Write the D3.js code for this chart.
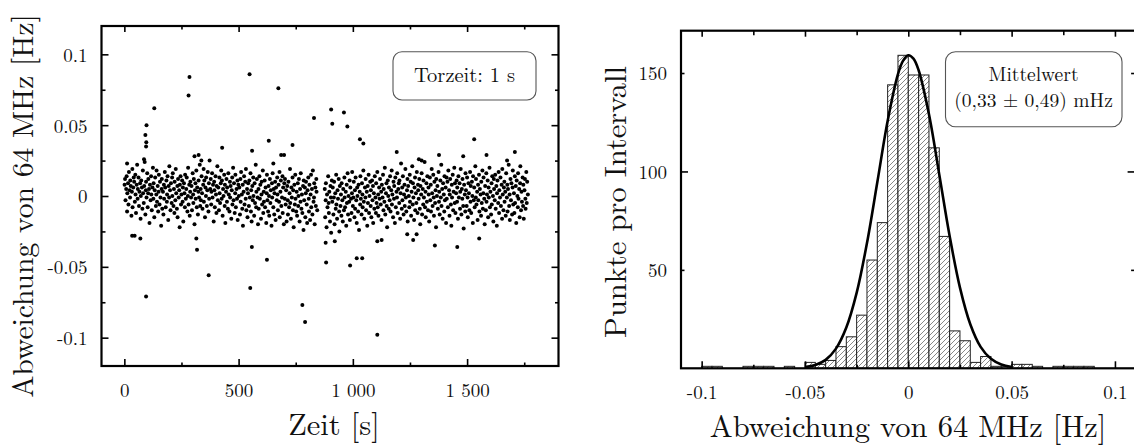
<!DOCTYPE html>
<html><head><meta charset="utf-8">
<script src="https://cdn.jsdelivr.net/npm/d3@7"></script>
<style>
html,body{margin:0;padding:0;background:#fff;}
</style></head><body>
<svg id="chart" width="1134" height="448"></svg>
<script>
// ---------- Left chart: deviation vs time (s, mHz) ----------
const bandTime = [
1,3,5,8,10,12,13,16,18,20,23,25,26,28,31,33,35,36,39,41,
43,46,48,49,51,54,56,58,59,62,64,66,69,71,72,74,77,79,81,82,
85,87,89,92,94,95,97,100,102,104,105,108,110,112,115,117,118,120,123,125,
127,128,131,133,135,138,140,141,143,146,148,150,151,154,156,158,161,163,164,166,
169,171,173,174,177,179,181,184,186,187,189,192,194,196,197,200,202,204,207,209,
210,212,215,217,219,220,223,225,227,230,232,233,235,238,240,242,243,246,248,250,
253,255,256,258,261,263,265,266,269,271,273,276,278,279,281,284,286,288,289,292,
294,296,299,301,302,304,307,309,311,312,315,317,319,322,324,325,327,330,332,334,
335,338,340,342,345,347,348,350,353,355,357,358,361,363,365,368,370,371,373,376,
378,380,381,384,386,388,391,393,394,396,399,401,403,404,407,409,411,414,416,417,
419,422,424,426,427,430,432,434,437,439,440,442,445,447,449,450,453,455,457,460,
462,463,465,468,470,472,473,476,478,480,483,485,486,488,491,493,495,496,499,501,
503,506,508,509,511,514,516,518,519,522,524,526,529,531,532,534,537,539,541,542,
545,547,549,552,554,555,557,560,562,564,565,568,570,572,575,577,578,580,583,585,
587,588,591,593,595,598,600,601,603,606,608,610,611,614,616,618,621,623,624,626,
629,631,633,634,637,639,641,644,646,647,649,652,654,656,657,660,662,664,667,669,
670,672,675,677,679,680,683,685,687,690,692,693,695,698,700,702,703,706,708,710,
713,715,716,718,721,723,725,726,729,731,733,736,738,739,741,744,746,748,749,752,
754,756,759,761,762,764,767,769,771,772,775,777,779,782,784,785,787,790,792,794,
795,798,800,802,805,807,808,810,813,815,817,818,821,823,825,828,830,831,833,836,
838,840,841,844,877,879,881,882,885,887,889,892,894,895,897,900,902,904,905,908,
910,912,915,917,918,920,923,925,927,928,931,933,935,938,940,941,943,946,948,950,
951,954,956,958,961,963,964,966,969,971,973,974,977,979,981,984,986,987,989,992,
994,996,997,1000,1002,1004,1007,1009,1010,1012,1015,1017,1019,1020,1023,1025,1027,1030,1032,1033,
1035,1038,1040,1042,1043,1046,1048,1050,1053,1055,1056,1058,1061,1063,1065,1066,1069,1071,1073,1076,
1078,1079,1081,1084,1086,1088,1089,1092,1094,1096,1099,1101,1102,1104,1107,1109,1111,1112,1115,1117,
1119,1122,1124,1125,1127,1130,1132,1134,1135,1138,1140,1142,1145,1147,1148,1150,1153,1155,1157,1158,
1161,1163,1165,1168,1170,1171,1173,1176,1178,1180,1181,1184,1186,1188,1191,1193,1194,1196,1199,1201,
1203,1204,1207,1209,1211,1214,1216,1217,1219,1222,1224,1226,1227,1230,1232,1234,1237,1239,1240,1242,
1245,1247,1249,1250,1253,1255,1257,1260,1262,1263,1265,1268,1270,1272,1273,1276,1278,1280,1283,1285,
1286,1288,1291,1293,1295,1296,1299,1301,1303,1306,1308,1309,1311,1314,1316,1318,1319,1322,1324,1326,
1329,1331,1332,1334,1337,1339,1341,1342,1345,1347,1349,1352,1354,1355,1357,1360,1362,1364,1365,1368,
1370,1372,1375,1377,1378,1380,1383,1385,1387,1388,1391,1393,1395,1398,1400,1401,1403,1406,1408,1410,
1411,1414,1416,1418,1421,1423,1424,1426,1429,1431,1433,1434,1437,1439,1441,1444,1446,1447,1449,1452,
1454,1456,1457,1460,1462,1464,1467,1469,1470,1472,1475,1477,1479,1480,1483,1485,1487,1490,1492,1493,
1495,1498,1500,1502,1503,1506,1508,1510,1513,1515,1516,1518,1521,1523,1525,1526,1529,1531,1533,1536,
1538,1539,1541,1544,1546,1548,1549,1552,1554,1556,1559,1561,1562,1564,1567,1569,1571,1572,1575,1577,
1579,1582,1584,1585,1587,1590,1592,1594,1595,1598,1600,1602,1605,1607,1608,1610,1613,1615,1617,1618,
1621,1623,1625,1628,1630,1631,1633,1636,1638,1640,1641,1644,1646,1648,1651,1653,1654,1656,1659,1661,
1663,1664,1667,1669,1671,1674,1676,1677,1679,1682,1684,1686,1687,1690,1692,1694,1697,1699,1700,1702,
1705,1707,1709,1710,1713,1715,1717,1720,1722,1723,1725,1728,1730,1732,1733,1736,1738,1740,1743,1745,
1746,1748,1751,1753,1755,1756,1759,1761,1763,1766];
const bandDevMHz = [
8,12,-3,5,14,-11,2,9,-6,17,4,-1,11,7,-14,3,19,-8,6,13,
10,-4,15,1,-12,8,22,-2,5,13,-7,3,9,-16,0,11,6,-9,18,2,
-5,7,24,-13,4,10,-1,16,-8,2,12,5,-19,8,-3,14,1,-10,6,20,
-2,9,-15,4,13,-7,1,18,-4,7,-11,3,15,-6,10,-1,-21,5,12,-9,
3,-13,8,-2,17,6,-8,11,-4,1,14,-17,7,-1,21,4,-10,9,-5,13,
0,16,-7,5,-12,10,-3,19,2,-9,7,-15,12,-1,4,-22,8,14,-6,1,
11,-4,6,-18,9,2,-8,15,-2,5,13,-11,0,20,-6,8,-14,3,10,-1,
7,-10,16,1,-5,12,-20,4,9,-2,18,-8,6,-13,3,11,-1,22,-7,5,
-3,14,2,-9,8,19,-4,11,-15,6,0,13,-7,4,17,-11,9,-2,25,5,
12,-6,3,16,-1,8,-18,10,4,-8,14,1,-12,7,21,-3,6,-10,13,2,
-5,9,18,-2,11,-14,5,0,15,-7,8,-19,3,12,-4,6,-9,16,1,-11,
10,-1,7,-16,4,13,-6,20,-3,9,-12,2,15,-8,5,-2,11,-17,8,0,
6,-13,12,-4,17,1,-9,8,-21,3,14,-6,10,-2,19,-10,5,-15,2,9,
-7,11,-1,16,-11,4,-18,7,-3,13,0,-14,9,-5,22,-8,3,12,-1,-20,
5,-9,14,-2,8,-16,1,10,-6,18,-12,3,-4,11,-8,6,-19,2,15,-3,
-11,7,0,-14,12,-5,4,-21,9,-1,16,-8,5,-13,2,10,-17,6,-3,13,
1,-10,8,-4,17,-15,3,11,-7,-1,14,-12,6,-20,9,-2,12,-6,4,-18,
7,-3,-13,10,-8,2,19,-5,-16,6,-1,13,-10,4,-22,8,-6,15,-2,-11,
3,-14,9,-7,0,12,-18,5,-4,16,-9,1,-12,7,-24,11,-3,6,-15,2,
10,-6,-19,4,13,-2,-11,8,-17,1,15,-8,5,-13,18,-4,-1,9,-20,6,
-7,12,3,-10,5,-15,-3,9,-22,1,-8,14,-5,-12,3,-18,7,-1,-26,11,
-4,6,-13,-1,10,-20,2,-9,15,-6,-16,4,-2,12,-11,-25,7,-7,1,-14,
9,-3,-18,5,-10,13,-1,-8,3,-21,8,-5,16,-13,0,-4,11,-17,6,-2,
-12,2,17,-7,-1,10,-15,4,-9,13,-3,-19,6,0,-11,8,-24,3,-6,14,
-2,-13,9,1,-8,18,-4,-16,6,-1,12,-10,3,-21,7,-5,15,-12,0,10,
-7,4,-15,11,-3,7,-19,2,-9,14,-1,-12,9,-5,17,-8,1,-14,6,-2,
12,-6,3,-17,8,-1,15,-10,5,-4,20,-13,2,9,-7,-22,11,0,-9,6,
-3,14,-11,4,18,-6,1,-15,10,-2,7,-19,13,-8,3,-1,16,-12,5,9,
-5,11,-16,2,23,-9,6,-3,14,-13,1,8,-7,19,-1,-11,4,12,-18,7,
0,-8,15,-4,10,-14,3,21,-6,9,-1,-17,6,13,-10,2,-5,17,-12,8,
4,-2,12,-9,-20,7,1,16,-13,5,-6,11,-1,24,-8,3,-15,9,-4,14,
-10,6,1,-18,13,-3,8,-11,19,2,-7,15,-1,-14,10,-5,4,-22,12,0,
7,-9,17,-4,3,-13,11,-1,22,-7,5,-16,9,1,-11,14,-3,6,-19,13,
-2,10,-8,18,4,-14,1,12,-6,-21,8,-1,15,-10,3,20,-5,9,-12,2,
11,-4,6,-16,14,-1,9,-9,3,19,-13,5,-2,12,-7,-23,8,1,-11,16,
4,-7,13,-1,-15,9,2,-10,17,-4,7,-12,10,0,-19,14,-3,6,-8,21,
-1,12,-6,3,-17,8,-3,15,-11,5,1,-14,10,-5,18,-9,2,13,-2,-20,
7,-10,16,-4,1,11,-15,6,-1,20,-8,3,-13,9,-6,14,0,-18,12,5,
-3,15,-9,7,-21,2,11,-5,17,-12,4,-1,13,-7,8,-16,19,1,-10,6,
10,-4,3,-14,16,-1,8,-11,5,22,-7,1,-17,12,-3,9,-13,6,18,-6,
2,-12,14,-5,7,-19,11,0,-8,16,-2,5,-15,9,21,-10,3,-4,13,-7,
8,-16,4,12,-2,-9,17,-5,10,1];
const outlierTime = [12,86,92,95,96,97,131,281,285,307,325,337,428,548,559,632,652,674,686,699,736,830,905,910,961,976,1031,1046,1192,1289,1301,1377,1483,1531,1585,1675,1709,
  34,45,70,95,315,318,369,551,558,624,779,791,881,883,921,988,1017,1041,1107,1107,1126,1238,1264,1279,1359,1457,1553];
const outlierDevMHz = [23,26,43,35,38,50,62,71,84,28,29,25,34,86,32,39,23,76,29,29,36,55,61,51,59,49,40,37,31,26,25,29,28,40,29,25,31,
  -28,-28,-30,-71,-30,-38,-56,-65,-36,-45,-77,-89,-33,-47,-32,-49,-44,-44,-98,-32,-31,-27,-31,-27,-35,-36,-30];
const timeTicksMajor = [0,500,1000,1500];
const timeTickLabels = ["0","500","1 000","1 500"];
const timeTicksMinor = [250,750,1250,1750];
const devTicksMajor = [-0.1,-0.05,0,0.05,0.1];
const devTickLabels = ["-0.1","-0.05","0","0.05","0.1"];
const devTicksMinor = [-0.075,-0.025,0.025,0.075];

// ---------- Right chart: histogram ----------
const binLeft = [-0.100,-0.095,-0.090,-0.085,-0.080,-0.075,-0.070,-0.065,-0.060,-0.055,-0.050,-0.045,-0.040,-0.035,-0.030,-0.025,-0.020,-0.015,-0.010,-0.005,
  0.000,0.005,0.010,0.015,0.020,0.025,0.030,0.035,0.040,0.045,0.050,0.055,0.060,0.065,0.070,0.075,0.080,0.085];
const binCounts = [1,1,0,0,1,1,1,0,1,0,3,2,4,11,16,27,55,74,144,159,
  149,149,112,67,19,14,3,6,1,1,2,2,1,0,1,1,1,1];
const binWidth = 0.005;
const fitX = [-0.05,-0.045,-0.04,-0.035,-0.03,-0.025,-0.02,-0.015,-0.01,-0.005,-0.0025,0,0.0025,0.005,0.01,0.015,0.02,0.025,0.03,0.035,0.04,0.045,0.05];
const fitY = [0.6,1.7,4.3,10,20.7,38.3,63.6,94.5,125.6,149.4,156.3,159,157.3,151.4,129,98.4,67.2,41,22.4,10.9,4.8,1.9,0.65];
const histTicksMajor = [-0.1,-0.05,0,0.05,0.1];
const histTickLabels = ["-0.1","-0.05","0","0.05","0.1"];
const histTicksMinor = [-0.075,-0.025,0.025,0.075];
const countLabelTicks = [50,100,150];
const countTicksMajor = [100];
const countTicksMinor = [50,150];

// ---------- drawing ----------
const svg = d3.select("#chart");
const FONT = "Latin Modern Roman";
svg.attr("font-family", FONT);

function styleAxis(g, labelSize) {
  g.attr("font-family", FONT).attr("font-size", labelSize || 19);
  g.select(".domain").remove();
  g.selectAll(".tick line").attr("stroke", "#000").attr("stroke-width", 1.6);
  g.selectAll(".tick text").attr("fill", "#111").attr("font-family", FONT);
}
function addText(parent) {
  return parent.append("text").attr("font-family", FONT).attr("fill", "#111");
}

// Left chart
const L = {x0: 101.5, x1: 558.5, y0: 26, y1: 366};
const xT = d3.scaleLinear().domain([-100, 1900]).range([L.x0, L.x1]);
const yD = d3.scaleLinear().domain([-0.12, 0.12]).range([L.y1, L.y0]);

const lp = svg.append("g");
const nBand = Math.min(bandTime.length, bandDevMHz.length);
const pts = d3.range(nBand).map(i => [bandTime[i], bandDevMHz[i] / 1000]);
const nOut = Math.min(outlierTime.length, outlierDevMHz.length);
d3.range(nOut).forEach(i => pts.push([outlierTime[i], outlierDevMHz[i] / 1000]));
lp.append("g").selectAll("circle").data(pts).join("circle")
  .attr("cx", d => xT(d[0])).attr("cy", d => yD(d[1])).attr("r", 2.0).attr("fill", "#000");

// ticks left chart
let g;
g = lp.append("g").attr("transform", `translate(0,${L.y1})`)
  .call(d3.axisBottom(xT).tickValues(timeTicksMajor).tickSize(-7).tickPadding(18)
    .tickFormat((d, i) => timeTickLabels[i]));
styleAxis(g);
g = lp.append("g").attr("transform", `translate(0,${L.y1})`)
  .call(d3.axisBottom(xT).tickValues(timeTicksMinor).tickSize(-3.5).tickFormat(""));
styleAxis(g);
g = lp.append("g").attr("transform", `translate(0,${L.y0})`)
  .call(d3.axisTop(xT).tickValues(timeTicksMajor).tickSize(-6).tickFormat(""));
styleAxis(g);
g = lp.append("g").attr("transform", `translate(0,${L.y0})`)
  .call(d3.axisTop(xT).tickValues(timeTicksMinor).tickSize(-3.5).tickFormat(""));
styleAxis(g);
g = lp.append("g").attr("transform", `translate(${L.x0},0)`)
  .call(d3.axisLeft(yD).tickValues(devTicksMajor).tickSize(-7).tickPadding(14)
    .tickFormat((d, i) => devTickLabels[i]));
styleAxis(g);
g.selectAll(".tick text").attr("dy", "0.36em");
g = lp.append("g").attr("transform", `translate(${L.x0},0)`)
  .call(d3.axisLeft(yD).tickValues(devTicksMinor).tickSize(-4).tickFormat(""));
styleAxis(g);
g = lp.append("g").attr("transform", `translate(${L.x1},0)`)
  .call(d3.axisRight(yD).tickValues(devTicksMajor).tickSize(-7).tickFormat(""));
styleAxis(g);
g = lp.append("g").attr("transform", `translate(${L.x1},0)`)
  .call(d3.axisRight(yD).tickValues(devTicksMinor).tickSize(-3.5).tickFormat(""));
styleAxis(g);

lp.append("rect").attr("x", L.x0).attr("y", L.y0).attr("width", L.x1 - L.x0).attr("height", L.y1 - L.y0)
  .attr("fill", "none").attr("stroke", "#000").attr("stroke-width", 2.2);

// legend box left
lp.append("rect").attr("x", 393).attr("y", 51.7).attr("width", 143).attr("height", 48.3)
  .attr("rx", 9).attr("fill", "#fff").attr("stroke", "#555").attr("stroke-width", 1.1);
addText(lp).attr("x", 464.5).attr("y", 81.5).attr("text-anchor", "middle")
  .attr("font-size", 20.5).text("Torzeit: 1 s");

// titles left
addText(lp).attr("transform", "translate(33,206) rotate(-90)").attr("text-anchor", "middle")
  .attr("font-size", 29.5).text("Abweichung von 64 MHz [Hz]");
addText(lp).attr("x", 334).attr("y", 435).attr("text-anchor", "middle")
  .attr("font-size", 30.5).text("Zeit [s]");

// Right chart
const R = {x0: 681, x1: 1135.6, y0: 30.7, y1: 368.3};
const xH = d3.scaleLinear().domain([-0.11, 0.11]).range([R.x0, R.x1]);
const yC = d3.scaleLinear().domain([0, 171.5]).range([R.y1, R.y0]);

const defs = svg.append("defs");
const pat = defs.append("pattern").attr("id", "hatch").attr("patternUnits", "userSpaceOnUse")
  .attr("width", 5).attr("height", 5);
pat.append("rect").attr("width", 5).attr("height", 5).attr("fill", "#fff");
pat.append("path").attr("d", "M0,5 L5,0 M-1,1 L1,-1 M4,6 L6,4")
  .attr("stroke", "#6a6a6a").attr("stroke-width", 0.8);

const rp = svg.append("g");
const bins = d3.range(Math.min(binLeft.length, binCounts.length))
  .map(i => ({x: binLeft[i], c: binCounts[i]})).filter(d => d.c > 0);
rp.append("g").selectAll("rect").data(bins).join("rect")
  .attr("x", d => xH(d.x)).attr("width", d => xH(d.x + binWidth) - xH(d.x))
  .attr("y", d => yC(d.c)).attr("height", d => yC(0) - yC(d.c))
  .attr("fill", "url(#hatch)").attr("stroke", "#222").attr("stroke-width", 1);

const fitPts = d3.range(Math.min(fitX.length, fitY.length)).map(i => [fitX[i], fitY[i]]);
rp.append("path").datum(fitPts)
  .attr("d", d3.line().x(d => xH(d[0])).y(d => yC(d[1])).curve(d3.curveCatmullRom.alpha(0.5)))
  .attr("fill", "none").attr("stroke", "#000").attr("stroke-width", 2.6);

g = rp.append("g").attr("transform", `translate(0,${R.y1})`)
  .call(d3.axisBottom(xH).tickValues(histTicksMajor).tickSize(-7).tickPadding(17)
    .tickFormat((d, i) => histTickLabels[i]));
styleAxis(g);
g = rp.append("g").attr("transform", `translate(0,${R.y1})`)
  .call(d3.axisBottom(xH).tickValues(histTicksMinor).tickSize(-3.5).tickFormat(""));
styleAxis(g);
g = rp.append("g").attr("transform", `translate(0,${R.y0})`)
  .call(d3.axisTop(xH).tickValues(histTicksMajor).tickSize(-6).tickFormat(""));
styleAxis(g);
g = rp.append("g").attr("transform", `translate(0,${R.y0})`)
  .call(d3.axisTop(xH).tickValues(histTicksMinor).tickSize(-4.5).tickFormat(""));
styleAxis(g);
g = rp.append("g").attr("transform", `translate(${R.x0},0)`)
  .call(d3.axisLeft(yC).tickValues(countLabelTicks).tickSize(0).tickPadding(14).tickFormat(d3.format("d")));
styleAxis(g);
g.selectAll(".tick text").attr("dy", "0.36em");
g = rp.append("g").attr("transform", `translate(${R.x0},0)`)
  .call(d3.axisLeft(yC).tickValues(countTicksMajor).tickSize(-7).tickFormat(""));
styleAxis(g);
g = rp.append("g").attr("transform", `translate(${R.x0},0)`)
  .call(d3.axisLeft(yC).tickValues(countTicksMinor).tickSize(-3.5).tickFormat(""));
styleAxis(g);
g = rp.append("g").attr("transform", `translate(${R.x1},0)`)
  .call(d3.axisRight(yC).tickValues(countTicksMajor).tickSize(-8).tickFormat(""));
styleAxis(g);
g = rp.append("g").attr("transform", `translate(${R.x1},0)`)
  .call(d3.axisRight(yC).tickValues(countTicksMinor).tickSize(-4.5).tickFormat(""));
styleAxis(g);

rp.append("rect").attr("x", R.x0).attr("y", R.y0).attr("width", R.x1 - R.x0).attr("height", R.y1 - R.y0)
  .attr("fill", "none").attr("stroke", "#000").attr("stroke-width", 2.2);

// legend box right
rp.append("rect").attr("x", 945.5).attr("y", 51.7).attr("width", 176.5).attr("height", 75)
  .attr("rx", 10).attr("fill", "#fff").attr("stroke", "#555").attr("stroke-width", 1.1);
addText(rp).attr("x", 1033.5).attr("y", 80.5).attr("text-anchor", "middle")
  .attr("font-size", 19.5).text("Mittelwert");
addText(rp).attr("x", 1033.5).attr("y", 107).attr("text-anchor", "middle")
  .attr("font-size", 19.5).text("(0,33 \u00b1 0,49) mHz");

// titles right
addText(rp).attr("transform", "translate(626,202) rotate(-90)").attr("text-anchor", "middle")
  .attr("font-size", 30.5).text("Punkte pro Intervall");
addText(rp).attr("x", 908).attr("y", 437).attr("text-anchor", "middle")
  .attr("font-size", 30.5).text("Abweichung von 64 MHz [Hz]");
</script>
</body></html>
